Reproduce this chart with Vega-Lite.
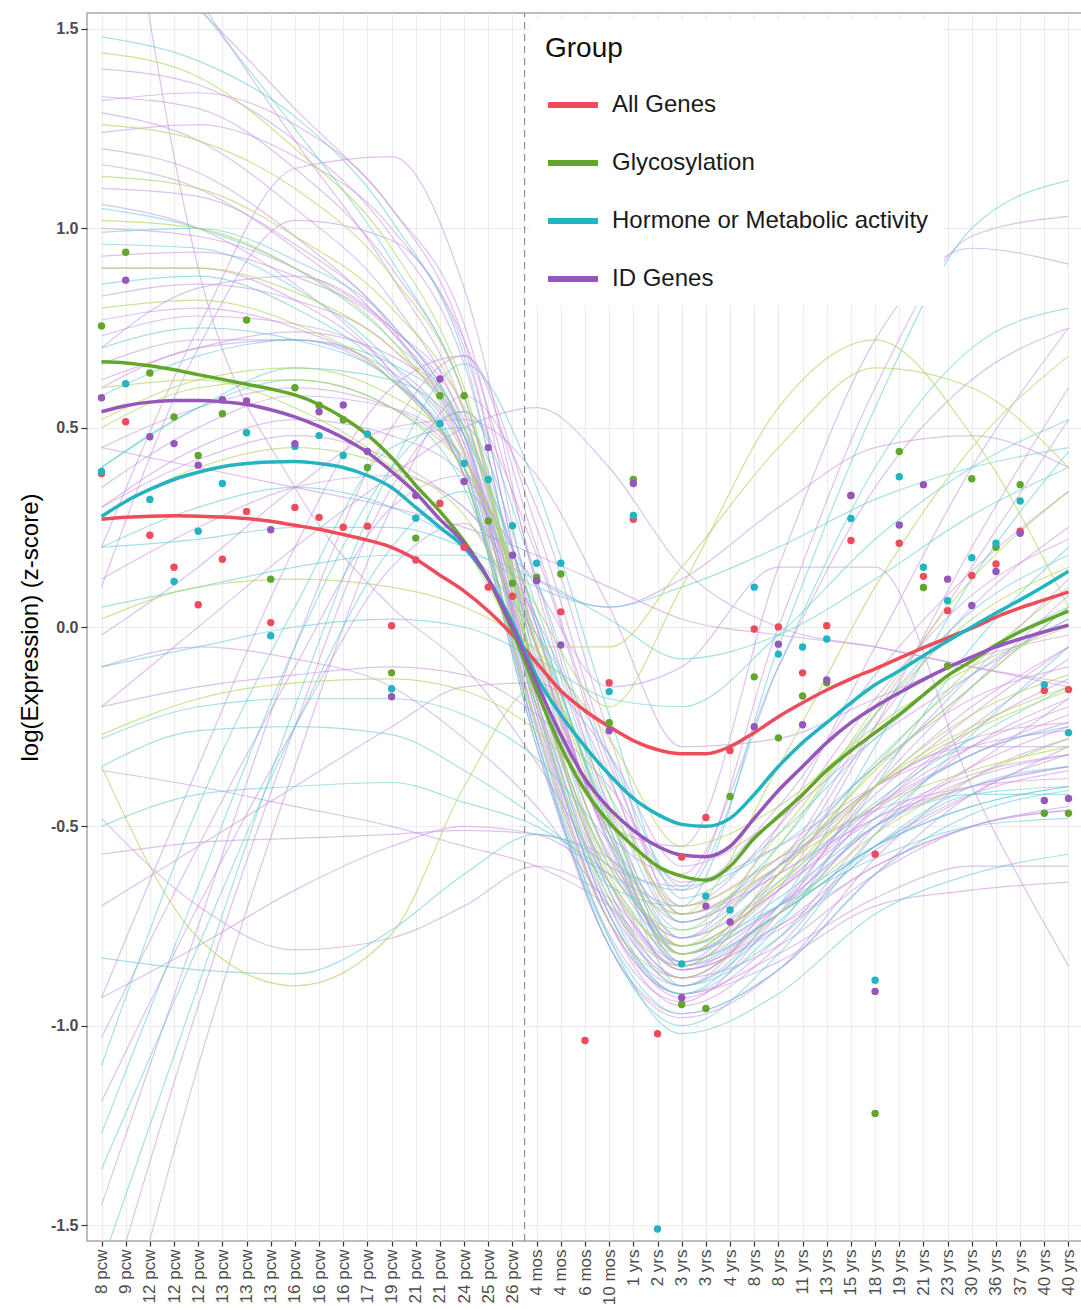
{
"$schema":"https://vega.github.io/schema/vega-lite/v6.json",
"width":996,"height":1228,
"autosize":{"type":"none"},
"padding":{"left":87,"top":13,"right":0,"bottom":68},
"background":"white",
"config":{"font":"Liberation Sans","view":{"stroke":"#a8a8a8","strokeWidth":1.5}},
"datasets":{
"thin":[
{"l":"H1","g":"P","x":1,"y":1.40},{"l":"H1","g":"P","x":5,"y":1.36},{"l":"H1","g":"P","x":9,"y":1.22},{"l":"H1","g":"P","x":13,"y":0.98},{"l":"H1","g":"P","x":16,"y":0.66},{"l":"H1","g":"P","x":19,"y":-0.10},{"l":"H1","g":"P","x":22,"y":-0.64},{"l":"H1","g":"P","x":25,"y":-0.85},{"l":"H1","g":"P","x":29,"y":-0.62},{"l":"H1","g":"P","x":33,"y":-0.25},{"l":"H1","g":"P","x":37,"y":0.05},{"l":"H1","g":"P","x":41,"y":0.25},
{"l":"H2","g":"P","x":1,"y":1.33},{"l":"H2","g":"P","x":5,"y":1.30},{"l":"H2","g":"P","x":9,"y":1.15},{"l":"H2","g":"P","x":13,"y":0.90},{"l":"H2","g":"P","x":16,"y":0.58},{"l":"H2","g":"P","x":19,"y":-0.18},{"l":"H2","g":"P","x":22,"y":-0.72},{"l":"H2","g":"P","x":25,"y":-0.90},{"l":"H2","g":"P","x":29,"y":-0.72},{"l":"H2","g":"P","x":33,"y":-0.45},{"l":"H2","g":"P","x":37,"y":-0.25},{"l":"H2","g":"P","x":41,"y":-0.08},
{"l":"H3","g":"P","x":1,"y":1.32},{"l":"H3","g":"P","x":5,"y":1.34},{"l":"H3","g":"P","x":9,"y":1.26},{"l":"H3","g":"P","x":13,"y":1.05},{"l":"H3","g":"P","x":16,"y":0.72},{"l":"H3","g":"P","x":19,"y":-0.06},{"l":"H3","g":"P","x":22,"y":-0.58},{"l":"H3","g":"P","x":25,"y":-0.78},{"l":"H3","g":"P","x":29,"y":-0.50},{"l":"H3","g":"P","x":33,"y":-0.05},{"l":"H3","g":"P","x":37,"y":0.40},{"l":"H3","g":"P","x":41,"y":0.75},
{"l":"H4","g":"C","x":1,"y":1.48},{"l":"H4","g":"C","x":5,"y":1.42},{"l":"H4","g":"C","x":9,"y":1.28},{"l":"H4","g":"C","x":13,"y":1.02},{"l":"H4","g":"C","x":16,"y":0.68},{"l":"H4","g":"C","x":19,"y":-0.14},{"l":"H4","g":"C","x":22,"y":-0.70},{"l":"H4","g":"C","x":25,"y":-0.92},{"l":"H4","g":"C","x":29,"y":-0.75},{"l":"H4","g":"C","x":33,"y":-0.40},{"l":"H4","g":"C","x":37,"y":-0.05},{"l":"H4","g":"C","x":41,"y":0.20},
{"l":"H5","g":"G","x":1,"y":1.44},{"l":"H5","g":"G","x":5,"y":1.38},{"l":"H5","g":"G","x":9,"y":1.20},{"l":"H5","g":"G","x":13,"y":0.95},{"l":"H5","g":"G","x":16,"y":0.60},{"l":"H5","g":"G","x":19,"y":-0.12},{"l":"H5","g":"G","x":22,"y":-0.62},{"l":"H5","g":"G","x":25,"y":-0.82},{"l":"H5","g":"G","x":29,"y":-0.62},{"l":"H5","g":"G","x":33,"y":-0.36},{"l":"H5","g":"G","x":37,"y":-0.15},{"l":"H5","g":"G","x":41,"y":0.05},
{"l":"H6","g":"P","x":1,"y":1.29},{"l":"H6","g":"P","x":5,"y":1.22},{"l":"H6","g":"P","x":9,"y":1.05},{"l":"H6","g":"P","x":13,"y":0.82},{"l":"H6","g":"P","x":16,"y":0.50},{"l":"H6","g":"P","x":19,"y":-0.22},{"l":"H6","g":"P","x":22,"y":-0.74},{"l":"H6","g":"P","x":25,"y":-0.95},{"l":"H6","g":"P","x":29,"y":-0.80},{"l":"H6","g":"P","x":33,"y":-0.52},{"l":"H6","g":"P","x":37,"y":-0.35},{"l":"H6","g":"P","x":41,"y":-0.18},
{"l":"H7","g":"G","x":1,"y":1.26},{"l":"H7","g":"G","x":5,"y":1.22},{"l":"H7","g":"G","x":9,"y":1.10},{"l":"H7","g":"G","x":13,"y":0.88},{"l":"H7","g":"G","x":16,"y":0.58},{"l":"H7","g":"G","x":19,"y":-0.14},{"l":"H7","g":"G","x":22,"y":-0.64},{"l":"H7","g":"G","x":25,"y":-0.80},{"l":"H7","g":"G","x":29,"y":-0.55},{"l":"H7","g":"G","x":33,"y":-0.20},{"l":"H7","g":"G","x":37,"y":0.12},{"l":"H7","g":"G","x":41,"y":0.34},
{"l":"H8","g":"P","x":1,"y":1.24},{"l":"H8","g":"P","x":5,"y":1.26},{"l":"H8","g":"P","x":9,"y":1.18},{"l":"H8","g":"P","x":13,"y":1.00},{"l":"H8","g":"P","x":16,"y":0.70},{"l":"H8","g":"P","x":19,"y":-0.04},{"l":"H8","g":"P","x":22,"y":-0.52},{"l":"H8","g":"P","x":25,"y":-0.72},{"l":"H8","g":"P","x":29,"y":-0.62},{"l":"H8","g":"P","x":33,"y":-0.45},{"l":"H8","g":"P","x":37,"y":-0.32},{"l":"H8","g":"P","x":41,"y":-0.24},
{"l":"H9","g":"P","x":1,"y":1.20},{"l":"H9","g":"P","x":5,"y":1.14},{"l":"H9","g":"P","x":9,"y":0.98},{"l":"H9","g":"P","x":13,"y":0.75},{"l":"H9","g":"P","x":16,"y":0.44},{"l":"H9","g":"P","x":19,"y":-0.28},{"l":"H9","g":"P","x":22,"y":-0.80},{"l":"H9","g":"P","x":25,"y":-0.98},{"l":"H9","g":"P","x":29,"y":-0.86},{"l":"H9","g":"P","x":33,"y":-0.58},{"l":"H9","g":"P","x":37,"y":-0.38},{"l":"H9","g":"P","x":41,"y":-0.28},
{"l":"H10","g":"P","x":1,"y":1.16},{"l":"H10","g":"P","x":5,"y":1.10},{"l":"H10","g":"P","x":9,"y":0.95},{"l":"H10","g":"P","x":13,"y":0.74},{"l":"H10","g":"P","x":16,"y":0.46},{"l":"H10","g":"P","x":19,"y":-0.22},{"l":"H10","g":"P","x":22,"y":-0.70},{"l":"H10","g":"P","x":25,"y":-0.88},{"l":"H10","g":"P","x":29,"y":-0.70},{"l":"H10","g":"P","x":33,"y":-0.40},{"l":"H10","g":"P","x":37,"y":-0.15},{"l":"H10","g":"P","x":41,"y":0.08},
{"l":"H11","g":"G","x":1,"y":1.13},{"l":"H11","g":"G","x":5,"y":1.10},{"l":"H11","g":"G","x":9,"y":0.98},{"l":"H11","g":"G","x":13,"y":0.80},{"l":"H11","g":"G","x":16,"y":0.54},{"l":"H11","g":"G","x":19,"y":-0.14},{"l":"H11","g":"G","x":22,"y":-0.60},{"l":"H11","g":"G","x":25,"y":-0.76},{"l":"H11","g":"G","x":29,"y":-0.52},{"l":"H11","g":"G","x":33,"y":-0.22},{"l":"H11","g":"G","x":37,"y":0.02},{"l":"H11","g":"G","x":41,"y":0.15},
{"l":"H12","g":"P","x":1,"y":1.10},{"l":"H12","g":"P","x":5,"y":1.08},{"l":"H12","g":"P","x":9,"y":0.96},{"l":"H12","g":"P","x":13,"y":0.76},{"l":"H12","g":"P","x":16,"y":0.48},{"l":"H12","g":"P","x":19,"y":-0.25},{"l":"H12","g":"P","x":22,"y":-0.74},{"l":"H12","g":"P","x":25,"y":-0.92},{"l":"H12","g":"P","x":29,"y":-0.82},{"l":"H12","g":"P","x":33,"y":-0.68},{"l":"H12","g":"P","x":37,"y":-0.60},{"l":"H12","g":"P","x":41,"y":-0.60},
{"l":"H13","g":"P","x":1,"y":1.06},{"l":"H13","g":"P","x":5,"y":1.00},{"l":"H13","g":"P","x":9,"y":0.86},{"l":"H13","g":"P","x":13,"y":0.64},{"l":"H13","g":"P","x":16,"y":0.38},{"l":"H13","g":"P","x":19,"y":-0.30},{"l":"H13","g":"P","x":22,"y":-0.80},{"l":"H13","g":"P","x":25,"y":-0.97},{"l":"H13","g":"P","x":29,"y":-0.86},{"l":"H13","g":"P","x":33,"y":-0.62},{"l":"H13","g":"P","x":37,"y":-0.42},{"l":"H13","g":"P","x":41,"y":-0.32},
{"l":"H14","g":"G","x":1,"y":1.02},{"l":"H14","g":"G","x":5,"y":1.00},{"l":"H14","g":"G","x":9,"y":0.90},{"l":"H14","g":"G","x":13,"y":0.72},{"l":"H14","g":"G","x":16,"y":0.44},{"l":"H14","g":"G","x":19,"y":-0.20},{"l":"H14","g":"G","x":22,"y":-0.68},{"l":"H14","g":"G","x":25,"y":-0.85},{"l":"H14","g":"G","x":29,"y":-0.64},{"l":"H14","g":"G","x":33,"y":-0.40},{"l":"H14","g":"G","x":37,"y":-0.22},{"l":"H14","g":"G","x":41,"y":-0.12},
{"l":"H15","g":"C","x":1,"y":0.99},{"l":"H15","g":"C","x":5,"y":1.00},{"l":"H15","g":"C","x":9,"y":0.92},{"l":"H15","g":"C","x":13,"y":0.76},{"l":"H15","g":"C","x":16,"y":0.48},{"l":"H15","g":"C","x":19,"y":-0.20},{"l":"H15","g":"C","x":22,"y":-0.72},{"l":"H15","g":"C","x":25,"y":-0.92},{"l":"H15","g":"C","x":29,"y":-0.70},{"l":"H15","g":"C","x":33,"y":-0.30},{"l":"H15","g":"C","x":37,"y":0.12},{"l":"H15","g":"C","x":41,"y":0.44},
{"l":"H16","g":"C","x":1,"y":0.96},{"l":"H16","g":"C","x":5,"y":0.95},{"l":"H16","g":"C","x":9,"y":0.85},{"l":"H16","g":"C","x":13,"y":0.66},{"l":"H16","g":"C","x":16,"y":0.40},{"l":"H16","g":"C","x":19,"y":-0.28},{"l":"H16","g":"C","x":22,"y":-0.80},{"l":"H16","g":"C","x":25,"y":-1.00},{"l":"H16","g":"C","x":29,"y":-0.82},{"l":"H16","g":"C","x":33,"y":-0.52},{"l":"H16","g":"C","x":37,"y":-0.27},{"l":"H16","g":"C","x":41,"y":-0.05},
{"l":"H17","g":"P","x":1,"y":0.93},{"l":"H17","g":"P","x":5,"y":0.94},{"l":"H17","g":"P","x":9,"y":0.88},{"l":"H17","g":"P","x":13,"y":0.74},{"l":"H17","g":"P","x":16,"y":0.48},{"l":"H17","g":"P","x":19,"y":-0.15},{"l":"H17","g":"P","x":22,"y":-0.60},{"l":"H17","g":"P","x":25,"y":-0.80},{"l":"H17","g":"P","x":29,"y":-0.66},{"l":"H17","g":"P","x":33,"y":-0.48},{"l":"H17","g":"P","x":37,"y":-0.37},{"l":"H17","g":"P","x":41,"y":-0.32},
{"l":"H18","g":"P","x":1,"y":0.90},{"l":"H18","g":"P","x":5,"y":0.90},{"l":"H18","g":"P","x":9,"y":0.82},{"l":"H18","g":"P","x":13,"y":0.64},{"l":"H18","g":"P","x":16,"y":0.38},{"l":"H18","g":"P","x":19,"y":-0.28},{"l":"H18","g":"P","x":22,"y":-0.77},{"l":"H18","g":"P","x":25,"y":-0.94},{"l":"H18","g":"P","x":29,"y":-0.72},{"l":"H18","g":"P","x":33,"y":-0.38},{"l":"H18","g":"P","x":37,"y":-0.12},{"l":"H18","g":"P","x":41,"y":0.12},
{"l":"H19","g":"C","x":1,"y":0.86},{"l":"H19","g":"C","x":5,"y":0.88},{"l":"H19","g":"C","x":9,"y":0.80},{"l":"H19","g":"C","x":13,"y":0.63},{"l":"H19","g":"C","x":16,"y":0.38},{"l":"H19","g":"C","x":19,"y":-0.30},{"l":"H19","g":"C","x":22,"y":-0.78},{"l":"H19","g":"C","x":25,"y":-0.97},{"l":"H19","g":"C","x":29,"y":-0.86},{"l":"H19","g":"C","x":33,"y":-0.62},{"l":"H19","g":"C","x":37,"y":-0.47},{"l":"H19","g":"C","x":41,"y":-0.41},
{"l":"H20","g":"P","x":1,"y":0.83},{"l":"H20","g":"P","x":5,"y":0.86},{"l":"H20","g":"P","x":9,"y":0.82},{"l":"H20","g":"P","x":13,"y":0.70},{"l":"H20","g":"P","x":16,"y":0.46},{"l":"H20","g":"P","x":19,"y":-0.18},{"l":"H20","g":"P","x":22,"y":-0.68},{"l":"H20","g":"P","x":25,"y":-0.90},{"l":"H20","g":"P","x":29,"y":-0.66},{"l":"H20","g":"P","x":33,"y":-0.25},{"l":"H20","g":"P","x":37,"y":0.20},{"l":"H20","g":"P","x":41,"y":0.60},
{"l":"H21","g":"G","x":1,"y":0.80},{"l":"H21","g":"G","x":5,"y":0.82},{"l":"H21","g":"G","x":9,"y":0.76},{"l":"H21","g":"G","x":13,"y":0.62},{"l":"H21","g":"G","x":16,"y":0.38},{"l":"H21","g":"G","x":19,"y":-0.25},{"l":"H21","g":"G","x":22,"y":-0.74},{"l":"H21","g":"G","x":25,"y":-0.88},{"l":"H21","g":"G","x":29,"y":-0.72},{"l":"H21","g":"G","x":33,"y":-0.52},{"l":"H21","g":"G","x":37,"y":-0.38},{"l":"H21","g":"G","x":41,"y":-0.28},
{"l":"H22","g":"P","x":1,"y":0.77},{"l":"H22","g":"P","x":5,"y":0.80},{"l":"H22","g":"P","x":9,"y":0.75},{"l":"H22","g":"P","x":13,"y":0.62},{"l":"H22","g":"P","x":16,"y":0.38},{"l":"H22","g":"P","x":19,"y":-0.24},{"l":"H22","g":"P","x":22,"y":-0.74},{"l":"H22","g":"P","x":25,"y":-0.92},{"l":"H22","g":"P","x":29,"y":-0.84},{"l":"H22","g":"P","x":33,"y":-0.70},{"l":"H22","g":"P","x":37,"y":-0.66},{"l":"H22","g":"P","x":41,"y":-0.64},
{"l":"H23","g":"P","x":1,"y":0.73},{"l":"H23","g":"P","x":5,"y":0.78},{"l":"H23","g":"P","x":9,"y":0.76},{"l":"H23","g":"P","x":13,"y":0.66},{"l":"H23","g":"P","x":16,"y":0.44},{"l":"H23","g":"P","x":19,"y":-0.15},{"l":"H23","g":"P","x":22,"y":-0.64},{"l":"H23","g":"P","x":25,"y":-0.84},{"l":"H23","g":"P","x":29,"y":-0.60},{"l":"H23","g":"P","x":33,"y":-0.22},{"l":"H23","g":"P","x":37,"y":0.15},{"l":"H23","g":"P","x":41,"y":0.52},
{"l":"H24","g":"C","x":1,"y":0.70},{"l":"H24","g":"C","x":5,"y":0.75},{"l":"H24","g":"C","x":9,"y":0.72},{"l":"H24","g":"C","x":13,"y":0.62},{"l":"H24","g":"C","x":16,"y":0.40},{"l":"H24","g":"C","x":19,"y":-0.26},{"l":"H24","g":"C","x":22,"y":-0.78},{"l":"H24","g":"C","x":25,"y":-1.02},{"l":"H24","g":"C","x":29,"y":-0.92},{"l":"H24","g":"C","x":33,"y":-0.72},{"l":"H24","g":"C","x":37,"y":-0.62},{"l":"H24","g":"C","x":41,"y":-0.57},
{"l":"H25","g":"P","x":1,"y":0.66},{"l":"H25","g":"P","x":5,"y":0.72},{"l":"H25","g":"P","x":9,"y":0.72},{"l":"H25","g":"P","x":13,"y":0.64},{"l":"H25","g":"P","x":16,"y":0.43},{"l":"H25","g":"P","x":19,"y":-0.18},{"l":"H25","g":"P","x":22,"y":-0.66},{"l":"H25","g":"P","x":25,"y":-0.88},{"l":"H25","g":"P","x":29,"y":-0.70},{"l":"H25","g":"P","x":33,"y":-0.46},{"l":"H25","g":"P","x":37,"y":-0.26},{"l":"H25","g":"P","x":41,"y":-0.13},
{"l":"H26","g":"P","x":1,"y":0.62},{"l":"H26","g":"P","x":5,"y":0.70},{"l":"H26","g":"P","x":9,"y":0.74},{"l":"H26","g":"P","x":13,"y":0.68},{"l":"H26","g":"P","x":16,"y":0.48},{"l":"H26","g":"P","x":19,"y":-0.12},{"l":"H26","g":"P","x":22,"y":-0.57},{"l":"H26","g":"P","x":25,"y":-0.78},{"l":"H26","g":"P","x":29,"y":-0.60},{"l":"H26","g":"P","x":33,"y":-0.40},{"l":"H26","g":"P","x":37,"y":-0.28},{"l":"H26","g":"P","x":41,"y":-0.24},
{"l":"T1","g":"P","x":1,"y":2.30},{"l":"T1","g":"P","x":5,"y":0.90},{"l":"T1","g":"P","x":9,"y":0.35},{"l":"T1","g":"P","x":13,"y":0.05},{"l":"T1","g":"P","x":16,"y":-0.10},{"l":"T1","g":"P","x":19,"y":-0.34},{"l":"T1","g":"P","x":22,"y":-0.64},{"l":"T1","g":"P","x":25,"y":-0.86},{"l":"T1","g":"P","x":29,"y":-0.72},{"l":"T1","g":"P","x":33,"y":-0.55},{"l":"T1","g":"P","x":37,"y":-0.42},{"l":"T1","g":"P","x":41,"y":-0.36},
{"l":"T2","g":"P","x":1,"y":2.00},{"l":"T2","g":"P","x":5,"y":1.58},{"l":"T2","g":"P","x":9,"y":1.22},{"l":"T2","g":"P","x":13,"y":0.88},{"l":"T2","g":"P","x":16,"y":0.54},{"l":"T2","g":"P","x":19,"y":-0.20},{"l":"T2","g":"P","x":22,"y":-0.72},{"l":"T2","g":"P","x":25,"y":-0.93},{"l":"T2","g":"P","x":29,"y":-0.78},{"l":"T2","g":"P","x":33,"y":-0.50},{"l":"T2","g":"P","x":37,"y":-0.30},{"l":"T2","g":"P","x":41,"y":-0.18},
{"l":"T3","g":"C","x":1,"y":1.90},{"l":"T3","g":"C","x":5,"y":1.56},{"l":"T3","g":"C","x":9,"y":1.25},{"l":"T3","g":"C","x":13,"y":0.92},{"l":"T3","g":"C","x":16,"y":0.58},{"l":"T3","g":"C","x":19,"y":-0.12},{"l":"T3","g":"C","x":22,"y":-0.66},{"l":"T3","g":"C","x":25,"y":-0.90},{"l":"T3","g":"C","x":29,"y":-0.74},{"l":"T3","g":"C","x":33,"y":-0.48},{"l":"T3","g":"C","x":37,"y":-0.32},{"l":"T3","g":"C","x":41,"y":-0.25},
{"l":"T4","g":"P","x":1,"y":1.75},{"l":"T4","g":"P","x":5,"y":1.55},{"l":"T4","g":"P","x":9,"y":1.30},{"l":"T4","g":"P","x":13,"y":1.05},{"l":"T4","g":"P","x":16,"y":0.76},{"l":"T4","g":"P","x":19,"y":0.00},{"l":"T4","g":"P","x":22,"y":-0.54},{"l":"T4","g":"P","x":25,"y":-0.82},{"l":"T4","g":"P","x":29,"y":-0.66},{"l":"T4","g":"P","x":33,"y":-0.42},{"l":"T4","g":"P","x":37,"y":-0.22},{"l":"T4","g":"P","x":41,"y":-0.05},
{"l":"R1","g":"P","x":1,"y":-1.03},{"l":"R1","g":"P","x":5,"y":-0.55},{"l":"R1","g":"P","x":9,"y":-0.10},{"l":"R1","g":"P","x":13,"y":0.30},{"l":"R1","g":"P","x":16,"y":0.38},{"l":"R1","g":"P","x":19,"y":-0.05},{"l":"R1","g":"P","x":22,"y":-0.54},{"l":"R1","g":"P","x":25,"y":-0.80},{"l":"R1","g":"P","x":29,"y":-0.66},{"l":"R1","g":"P","x":33,"y":-0.46},{"l":"R1","g":"P","x":37,"y":-0.32},{"l":"R1","g":"P","x":41,"y":-0.22},
{"l":"R2","g":"C","x":1,"y":-1.10},{"l":"R2","g":"C","x":5,"y":-0.45},{"l":"R2","g":"C","x":9,"y":0.05},{"l":"R2","g":"C","x":13,"y":0.45},{"l":"R2","g":"C","x":16,"y":0.50},{"l":"R2","g":"C","x":19,"y":0.05},{"l":"R2","g":"C","x":22,"y":-0.47},{"l":"R2","g":"C","x":25,"y":-0.76},{"l":"R2","g":"C","x":29,"y":-0.60},{"l":"R2","g":"C","x":33,"y":-0.34},{"l":"R2","g":"C","x":37,"y":-0.12},{"l":"R2","g":"C","x":41,"y":0.02},
{"l":"R3","g":"P","x":1,"y":-1.19},{"l":"R3","g":"P","x":5,"y":-0.70},{"l":"R3","g":"P","x":9,"y":-0.25},{"l":"R3","g":"P","x":13,"y":0.15},{"l":"R3","g":"P","x":16,"y":0.26},{"l":"R3","g":"P","x":19,"y":-0.10},{"l":"R3","g":"P","x":22,"y":-0.52},{"l":"R3","g":"P","x":25,"y":-0.84},{"l":"R3","g":"P","x":29,"y":-0.72},{"l":"R3","g":"P","x":33,"y":-0.50},{"l":"R3","g":"P","x":37,"y":-0.40},{"l":"R3","g":"P","x":41,"y":-0.35},
{"l":"R4","g":"C","x":1,"y":-1.27},{"l":"R4","g":"C","x":5,"y":-0.65},{"l":"R4","g":"C","x":9,"y":-0.05},{"l":"R4","g":"C","x":13,"y":0.40},{"l":"R4","g":"C","x":16,"y":0.54},{"l":"R4","g":"C","x":19,"y":0.12},{"l":"R4","g":"C","x":22,"y":-0.42},{"l":"R4","g":"C","x":25,"y":-0.74},{"l":"R4","g":"C","x":29,"y":-0.55},{"l":"R4","g":"C","x":33,"y":-0.22},{"l":"R4","g":"C","x":37,"y":0.04},{"l":"R4","g":"C","x":41,"y":0.18},
{"l":"R5","g":"C","x":1,"y":-1.36},{"l":"R5","g":"C","x":5,"y":-0.80},{"l":"R5","g":"C","x":9,"y":-0.25},{"l":"R5","g":"C","x":13,"y":0.20},{"l":"R5","g":"C","x":16,"y":0.34},{"l":"R5","g":"C","x":19,"y":-0.02},{"l":"R5","g":"C","x":22,"y":-0.48},{"l":"R5","g":"C","x":25,"y":-0.82},{"l":"R5","g":"C","x":29,"y":-0.68},{"l":"R5","g":"C","x":33,"y":-0.50},{"l":"R5","g":"C","x":37,"y":-0.42},{"l":"R5","g":"C","x":41,"y":-0.42},
{"l":"R6","g":"P","x":1,"y":-1.45},{"l":"R6","g":"P","x":5,"y":-0.75},{"l":"R6","g":"P","x":9,"y":-0.05},{"l":"R6","g":"P","x":13,"y":0.50},{"l":"R6","g":"P","x":16,"y":0.68},{"l":"R6","g":"P","x":19,"y":0.25},{"l":"R6","g":"P","x":22,"y":-0.32},{"l":"R6","g":"P","x":25,"y":-0.70},{"l":"R6","g":"P","x":29,"y":-0.50},{"l":"R6","g":"P","x":33,"y":-0.18},{"l":"R6","g":"P","x":37,"y":0.08},{"l":"R6","g":"P","x":41,"y":0.22},
{"l":"R7","g":"P","x":1,"y":-1.75},{"l":"R7","g":"P","x":5,"y":-0.95},{"l":"R7","g":"P","x":9,"y":-0.25},{"l":"R7","g":"P","x":13,"y":0.35},{"l":"R7","g":"P","x":16,"y":0.54},{"l":"R7","g":"P","x":19,"y":0.18},{"l":"R7","g":"P","x":22,"y":-0.37},{"l":"R7","g":"P","x":25,"y":-0.74},{"l":"R7","g":"P","x":29,"y":-0.60},{"l":"R7","g":"P","x":33,"y":-0.40},{"l":"R7","g":"P","x":37,"y":-0.30},{"l":"R7","g":"P","x":41,"y":-0.30},
{"l":"R8","g":"P","x":1,"y":-0.93},{"l":"R8","g":"P","x":5,"y":-0.35},{"l":"R8","g":"P","x":9,"y":0.20},{"l":"R8","g":"P","x":13,"y":0.60},{"l":"R8","g":"P","x":16,"y":0.68},{"l":"R8","g":"P","x":19,"y":0.20},{"l":"R8","g":"P","x":22,"y":-0.34},{"l":"R8","g":"P","x":25,"y":-0.66},{"l":"R8","g":"P","x":29,"y":-0.45},{"l":"R8","g":"P","x":33,"y":-0.12},{"l":"R8","g":"P","x":37,"y":0.14},{"l":"R8","g":"P","x":41,"y":0.34},
{"l":"R9","g":"P","x":1,"y":0.20},{"l":"R9","g":"P","x":5,"y":0.75},{"l":"R9","g":"P","x":9,"y":1.15},{"l":"R9","g":"P","x":13,"y":1.18},{"l":"R9","g":"P","x":16,"y":0.85},{"l":"R9","g":"P","x":19,"y":0.10},{"l":"R9","g":"P","x":22,"y":-0.45},{"l":"R9","g":"P","x":25,"y":-0.78},{"l":"R9","g":"P","x":29,"y":-0.65},{"l":"R9","g":"P","x":33,"y":-0.45},{"l":"R9","g":"P","x":37,"y":-0.30},{"l":"R9","g":"P","x":41,"y":-0.20},
{"l":"R10","g":"P","x":1,"y":0.10},{"l":"R10","g":"P","x":5,"y":0.70},{"l":"R10","g":"P","x":9,"y":1.02},{"l":"R10","g":"P","x":13,"y":0.97},{"l":"R10","g":"P","x":16,"y":0.72},{"l":"R10","g":"P","x":19,"y":0.12},{"l":"R10","g":"P","x":22,"y":-0.46},{"l":"R10","g":"P","x":25,"y":-0.82},{"l":"R10","g":"P","x":29,"y":-0.70},{"l":"R10","g":"P","x":33,"y":-0.50},{"l":"R10","g":"P","x":37,"y":-0.35},{"l":"R10","g":"P","x":41,"y":-0.25},
{"l":"R11","g":"C","x":1,"y":-1.60},{"l":"R11","g":"C","x":5,"y":-0.90},{"l":"R11","g":"C","x":9,"y":-0.20},{"l":"R11","g":"C","x":13,"y":0.40},{"l":"R11","g":"C","x":16,"y":0.66},{"l":"R11","g":"C","x":19,"y":0.35},{"l":"R11","g":"C","x":22,"y":-0.22},{"l":"R11","g":"C","x":25,"y":-0.68},{"l":"R11","g":"C","x":29,"y":-0.52},{"l":"R11","g":"C","x":33,"y":-0.28},{"l":"R11","g":"C","x":37,"y":-0.08},{"l":"R11","g":"C","x":41,"y":0.05},
{"l":"R12","g":"P","x":1,"y":-2.00},{"l":"R12","g":"P","x":5,"y":-1.10},{"l":"R12","g":"P","x":9,"y":-0.35},{"l":"R12","g":"P","x":13,"y":0.30},{"l":"R12","g":"P","x":16,"y":0.58},{"l":"R12","g":"P","x":19,"y":0.30},{"l":"R12","g":"P","x":22,"y":-0.27},{"l":"R12","g":"P","x":25,"y":-0.72},{"l":"R12","g":"P","x":29,"y":-0.58},{"l":"R12","g":"P","x":33,"y":-0.35},{"l":"R12","g":"P","x":37,"y":-0.18},{"l":"R12","g":"P","x":41,"y":-0.10},
{"l":"L1","g":"G","x":1,"y":-0.35},{"l":"L1","g":"G","x":5,"y":-0.78},{"l":"L1","g":"G","x":9,"y":-0.90},{"l":"L1","g":"G","x":13,"y":-0.77},{"l":"L1","g":"G","x":16,"y":-0.40},{"l":"L1","g":"G","x":19,"y":-0.15},{"l":"L1","g":"G","x":22,"y":-0.42},{"l":"L1","g":"G","x":25,"y":-0.72},{"l":"L1","g":"G","x":29,"y":-0.60},{"l":"L1","g":"G","x":33,"y":-0.45},{"l":"L1","g":"G","x":37,"y":-0.36},{"l":"L1","g":"G","x":41,"y":-0.30},
{"l":"L2","g":"C","x":1,"y":-0.83},{"l":"L2","g":"C","x":5,"y":-0.86},{"l":"L2","g":"C","x":9,"y":-0.87},{"l":"L2","g":"C","x":13,"y":-0.76},{"l":"L2","g":"C","x":16,"y":-0.62},{"l":"L2","g":"C","x":19,"y":-0.52},{"l":"L2","g":"C","x":22,"y":-0.60},{"l":"L2","g":"C","x":25,"y":-0.82},{"l":"L2","g":"C","x":29,"y":-0.70},{"l":"L2","g":"C","x":33,"y":-0.55},{"l":"L2","g":"C","x":37,"y":-0.45},{"l":"L2","g":"C","x":41,"y":-0.40},
{"l":"L3","g":"P","x":1,"y":-0.48},{"l":"L3","g":"P","x":5,"y":-0.70},{"l":"L3","g":"P","x":9,"y":-0.81},{"l":"L3","g":"P","x":13,"y":-0.78},{"l":"L3","g":"P","x":16,"y":-0.70},{"l":"L3","g":"P","x":19,"y":-0.60},{"l":"L3","g":"P","x":22,"y":-0.68},{"l":"L3","g":"P","x":25,"y":-0.86},{"l":"L3","g":"P","x":29,"y":-0.76},{"l":"L3","g":"P","x":33,"y":-0.60},{"l":"L3","g":"P","x":37,"y":-0.50},{"l":"L3","g":"P","x":41,"y":-0.46},
{"l":"L4","g":"C","x":1,"y":-0.50},{"l":"L4","g":"C","x":5,"y":-0.42},{"l":"L4","g":"C","x":9,"y":-0.40},{"l":"L4","g":"C","x":13,"y":-0.39},{"l":"L4","g":"C","x":16,"y":-0.44},{"l":"L4","g":"C","x":19,"y":-0.50},{"l":"L4","g":"C","x":22,"y":-0.62},{"l":"L4","g":"C","x":25,"y":-0.80},{"l":"L4","g":"C","x":29,"y":-0.70},{"l":"L4","g":"C","x":33,"y":-0.58},{"l":"L4","g":"C","x":37,"y":-0.50},{"l":"L4","g":"C","x":41,"y":-0.48},
{"l":"L5","g":"C","x":1,"y":-0.35},{"l":"L5","g":"C","x":5,"y":-0.26},{"l":"L5","g":"C","x":9,"y":-0.25},{"l":"L5","g":"C","x":13,"y":-0.27},{"l":"L5","g":"C","x":16,"y":-0.36},{"l":"L5","g":"C","x":19,"y":-0.48},{"l":"L5","g":"C","x":22,"y":-0.64},{"l":"L5","g":"C","x":25,"y":-0.84},{"l":"L5","g":"C","x":29,"y":-0.72},{"l":"L5","g":"C","x":33,"y":-0.55},{"l":"L5","g":"C","x":37,"y":-0.45},{"l":"L5","g":"C","x":41,"y":-0.40},
{"l":"L6","g":"P","x":1,"y":-0.57},{"l":"L6","g":"P","x":5,"y":-0.54},{"l":"L6","g":"P","x":9,"y":-0.53},{"l":"L6","g":"P","x":13,"y":-0.52},{"l":"L6","g":"P","x":16,"y":-0.51},{"l":"L6","g":"P","x":19,"y":-0.52},{"l":"L6","g":"P","x":22,"y":-0.58},{"l":"L6","g":"P","x":25,"y":-0.74},{"l":"L6","g":"P","x":29,"y":-0.62},{"l":"L6","g":"P","x":33,"y":-0.48},{"l":"L6","g":"P","x":37,"y":-0.40},{"l":"L6","g":"P","x":41,"y":-0.35},
{"l":"L7","g":"G","x":1,"y":-0.27},{"l":"L7","g":"G","x":5,"y":-0.18},{"l":"L7","g":"G","x":9,"y":-0.14},{"l":"L7","g":"G","x":13,"y":-0.13},{"l":"L7","g":"G","x":16,"y":-0.16},{"l":"L7","g":"G","x":19,"y":-0.26},{"l":"L7","g":"G","x":22,"y":-0.46},{"l":"L7","g":"G","x":25,"y":-0.70},{"l":"L7","g":"G","x":29,"y":-0.58},{"l":"L7","g":"G","x":33,"y":-0.40},{"l":"L7","g":"G","x":37,"y":-0.26},{"l":"L7","g":"G","x":41,"y":-0.16},
{"l":"L8","g":"C","x":1,"y":-0.28},{"l":"L8","g":"C","x":5,"y":-0.20},{"l":"L8","g":"C","x":9,"y":-0.18},{"l":"L8","g":"C","x":13,"y":-0.18},{"l":"L8","g":"C","x":16,"y":-0.22},{"l":"L8","g":"C","x":19,"y":-0.33},{"l":"L8","g":"C","x":22,"y":-0.54},{"l":"L8","g":"C","x":25,"y":-0.78},{"l":"L8","g":"C","x":29,"y":-0.64},{"l":"L8","g":"C","x":33,"y":-0.44},{"l":"L8","g":"C","x":37,"y":-0.28},{"l":"L8","g":"C","x":41,"y":-0.15},
{"l":"L9","g":"P","x":1,"y":-0.20},{"l":"L9","g":"P","x":5,"y":-0.15},{"l":"L9","g":"P","x":9,"y":-0.12},{"l":"L9","g":"P","x":13,"y":-0.10},{"l":"L9","g":"P","x":16,"y":-0.12},{"l":"L9","g":"P","x":19,"y":-0.22},{"l":"L9","g":"P","x":22,"y":-0.40},{"l":"L9","g":"P","x":25,"y":-0.64},{"l":"L9","g":"P","x":29,"y":-0.55},{"l":"L9","g":"P","x":33,"y":-0.40},{"l":"L9","g":"P","x":37,"y":-0.30},{"l":"L9","g":"P","x":41,"y":-0.26},
{"l":"L10","g":"P","x":1,"y":-0.10},{"l":"L10","g":"P","x":5,"y":-0.05},{"l":"L10","g":"P","x":9,"y":-0.08},{"l":"L10","g":"P","x":13,"y":-0.15},{"l":"L10","g":"P","x":16,"y":-0.28},{"l":"L10","g":"P","x":19,"y":-0.45},{"l":"L10","g":"P","x":22,"y":-0.70},{"l":"L10","g":"P","x":25,"y":-0.88},{"l":"L10","g":"P","x":29,"y":-0.80},{"l":"L10","g":"P","x":33,"y":-0.62},{"l":"L10","g":"P","x":37,"y":-0.50},{"l":"L10","g":"P","x":41,"y":-0.46},
{"l":"L11","g":"P","x":1,"y":-0.36},{"l":"L11","g":"P","x":5,"y":-0.40},{"l":"L11","g":"P","x":9,"y":-0.45},{"l":"L11","g":"P","x":13,"y":-0.50},{"l":"L11","g":"P","x":16,"y":-0.55},{"l":"L11","g":"P","x":19,"y":-0.60},{"l":"L11","g":"P","x":22,"y":-0.70},{"l":"L11","g":"P","x":25,"y":-0.86},{"l":"L11","g":"P","x":29,"y":-0.75},{"l":"L11","g":"P","x":33,"y":-0.56},{"l":"L11","g":"P","x":37,"y":-0.42},{"l":"L11","g":"P","x":41,"y":-0.30},
{"l":"L12","g":"P","x":1,"y":-0.70},{"l":"L12","g":"P","x":5,"y":-0.55},{"l":"L12","g":"P","x":9,"y":-0.40},{"l":"L12","g":"P","x":13,"y":-0.25},{"l":"L12","g":"P","x":16,"y":-0.15},{"l":"L12","g":"P","x":19,"y":-0.14},{"l":"L12","g":"P","x":22,"y":-0.32},{"l":"L12","g":"P","x":25,"y":-0.60},{"l":"L12","g":"P","x":29,"y":-0.48},{"l":"L12","g":"P","x":33,"y":-0.28},{"l":"L12","g":"P","x":37,"y":-0.12},{"l":"L12","g":"P","x":41,"y":0.02},
{"l":"L13","g":"P","x":1,"y":-0.93},{"l":"L13","g":"P","x":5,"y":-0.80},{"l":"L13","g":"P","x":9,"y":-0.66},{"l":"L13","g":"P","x":13,"y":-0.55},{"l":"L13","g":"P","x":16,"y":-0.50},{"l":"L13","g":"P","x":19,"y":-0.52},{"l":"L13","g":"P","x":22,"y":-0.62},{"l":"L13","g":"P","x":25,"y":-0.70},{"l":"L13","g":"P","x":29,"y":-0.58},{"l":"L13","g":"P","x":33,"y":-0.46},{"l":"L13","g":"P","x":37,"y":-0.40},{"l":"L13","g":"P","x":41,"y":-0.38},
{"l":"M1","g":"G","x":1,"y":0.02},{"l":"M1","g":"G","x":5,"y":0.10},{"l":"M1","g":"G","x":9,"y":0.12},{"l":"M1","g":"G","x":13,"y":0.10},{"l":"M1","g":"G","x":16,"y":0.05},{"l":"M1","g":"G","x":19,"y":-0.06},{"l":"M1","g":"G","x":22,"y":-0.28},{"l":"M1","g":"G","x":25,"y":-0.55},{"l":"M1","g":"G","x":29,"y":-0.45},{"l":"M1","g":"G","x":33,"y":-0.25},{"l":"M1","g":"G","x":37,"y":-0.10},{"l":"M1","g":"G","x":41,"y":0.00},
{"l":"M2","g":"C","x":1,"y":0.20},{"l":"M2","g":"C","x":5,"y":0.30},{"l":"M2","g":"C","x":9,"y":0.35},{"l":"M2","g":"C","x":13,"y":0.30},{"l":"M2","g":"C","x":16,"y":0.20},{"l":"M2","g":"C","x":19,"y":-0.02},{"l":"M2","g":"C","x":22,"y":-0.32},{"l":"M2","g":"C","x":25,"y":-0.65},{"l":"M2","g":"C","x":29,"y":-0.55},{"l":"M2","g":"C","x":33,"y":-0.35},{"l":"M2","g":"C","x":37,"y":-0.15},{"l":"M2","g":"C","x":41,"y":0.05},
{"l":"M3","g":"P","x":1,"y":0.12},{"l":"M3","g":"P","x":5,"y":0.25},{"l":"M3","g":"P","x":9,"y":0.35},{"l":"M3","g":"P","x":13,"y":0.38},{"l":"M3","g":"P","x":16,"y":0.30},{"l":"M3","g":"P","x":19,"y":0.02},{"l":"M3","g":"P","x":22,"y":-0.38},{"l":"M3","g":"P","x":25,"y":-0.72},{"l":"M3","g":"P","x":29,"y":-0.60},{"l":"M3","g":"P","x":33,"y":-0.40},{"l":"M3","g":"P","x":37,"y":-0.20},{"l":"M3","g":"P","x":41,"y":-0.05},
{"l":"M4","g":"G","x":1,"y":0.28},{"l":"M4","g":"G","x":5,"y":0.40},{"l":"M4","g":"G","x":9,"y":0.45},{"l":"M4","g":"G","x":13,"y":0.40},{"l":"M4","g":"G","x":16,"y":0.28},{"l":"M4","g":"G","x":19,"y":-0.05},{"l":"M4","g":"G","x":22,"y":-0.48},{"l":"M4","g":"G","x":25,"y":-0.80},{"l":"M4","g":"G","x":29,"y":-0.65},{"l":"M4","g":"G","x":33,"y":-0.40},{"l":"M4","g":"G","x":37,"y":-0.25},{"l":"M4","g":"G","x":41,"y":-0.15},
{"l":"M5","g":"P","x":1,"y":0.35},{"l":"M5","g":"P","x":5,"y":0.50},{"l":"M5","g":"P","x":9,"y":0.58},{"l":"M5","g":"P","x":13,"y":0.55},{"l":"M5","g":"P","x":16,"y":0.42},{"l":"M5","g":"P","x":19,"y":0.00},{"l":"M5","g":"P","x":22,"y":-0.50},{"l":"M5","g":"P","x":25,"y":-0.84},{"l":"M5","g":"P","x":29,"y":-0.70},{"l":"M5","g":"P","x":33,"y":-0.50},{"l":"M5","g":"P","x":37,"y":-0.38},{"l":"M5","g":"P","x":41,"y":-0.32},
{"l":"M6","g":"C","x":1,"y":0.40},{"l":"M6","g":"C","x":5,"y":0.55},{"l":"M6","g":"C","x":9,"y":0.65},{"l":"M6","g":"C","x":13,"y":0.62},{"l":"M6","g":"C","x":16,"y":0.48},{"l":"M6","g":"C","x":19,"y":0.02},{"l":"M6","g":"C","x":22,"y":-0.52},{"l":"M6","g":"C","x":25,"y":-0.90},{"l":"M6","g":"C","x":29,"y":-0.78},{"l":"M6","g":"C","x":33,"y":-0.55},{"l":"M6","g":"C","x":37,"y":-0.40},{"l":"M6","g":"C","x":41,"y":-0.35},
{"l":"M7","g":"P","x":1,"y":0.45},{"l":"M7","g":"P","x":5,"y":0.55},{"l":"M7","g":"P","x":9,"y":0.60},{"l":"M7","g":"P","x":13,"y":0.55},{"l":"M7","g":"P","x":16,"y":0.40},{"l":"M7","g":"P","x":19,"y":-0.05},{"l":"M7","g":"P","x":22,"y":-0.55},{"l":"M7","g":"P","x":25,"y":-0.85},{"l":"M7","g":"P","x":29,"y":-0.75},{"l":"M7","g":"P","x":33,"y":-0.60},{"l":"M7","g":"P","x":37,"y":-0.50},{"l":"M7","g":"P","x":41,"y":-0.45},
{"l":"M8","g":"G","x":1,"y":0.52},{"l":"M8","g":"G","x":5,"y":0.62},{"l":"M8","g":"G","x":9,"y":0.65},{"l":"M8","g":"G","x":13,"y":0.58},{"l":"M8","g":"G","x":16,"y":0.42},{"l":"M8","g":"G","x":19,"y":-0.02},{"l":"M8","g":"G","x":22,"y":-0.52},{"l":"M8","g":"G","x":25,"y":-0.82},{"l":"M8","g":"G","x":29,"y":-0.62},{"l":"M8","g":"G","x":33,"y":-0.35},{"l":"M8","g":"G","x":37,"y":-0.10},{"l":"M8","g":"G","x":41,"y":0.10},
{"l":"M9","g":"C","x":1,"y":0.58},{"l":"M9","g":"C","x":5,"y":0.68},{"l":"M9","g":"C","x":9,"y":0.72},{"l":"M9","g":"C","x":13,"y":0.66},{"l":"M9","g":"C","x":16,"y":0.50},{"l":"M9","g":"C","x":19,"y":0.02},{"l":"M9","g":"C","x":22,"y":-0.50},{"l":"M9","g":"C","x":25,"y":-0.85},{"l":"M9","g":"C","x":29,"y":-0.72},{"l":"M9","g":"C","x":33,"y":-0.55},{"l":"M9","g":"C","x":37,"y":-0.42},{"l":"M9","g":"C","x":41,"y":-0.40},
{"l":"M10","g":"P","x":1,"y":-0.02},{"l":"M10","g":"P","x":5,"y":0.15},{"l":"M10","g":"P","x":9,"y":0.35},{"l":"M10","g":"P","x":13,"y":0.50},{"l":"M10","g":"P","x":16,"y":0.52},{"l":"M10","g":"P","x":19,"y":0.38},{"l":"M10","g":"P","x":22,"y":0.05},{"l":"M10","g":"P","x":25,"y":-0.30},{"l":"M10","g":"P","x":29,"y":-0.28},{"l":"M10","g":"P","x":33,"y":-0.18},{"l":"M10","g":"P","x":37,"y":-0.08},{"l":"M10","g":"P","x":41,"y":-0.02},
{"l":"M11","g":"P","x":1,"y":0.45},{"l":"M11","g":"P","x":5,"y":0.40},{"l":"M11","g":"P","x":9,"y":0.35},{"l":"M11","g":"P","x":13,"y":0.30},{"l":"M11","g":"P","x":16,"y":0.25},{"l":"M11","g":"P","x":19,"y":0.18},{"l":"M11","g":"P","x":22,"y":0.10},{"l":"M11","g":"P","x":25,"y":0.02},{"l":"M11","g":"P","x":29,"y":-0.02},{"l":"M11","g":"P","x":33,"y":-0.05},{"l":"M11","g":"P","x":37,"y":-0.10},{"l":"M11","g":"P","x":41,"y":-0.14},
{"l":"M12","g":"C","x":1,"y":0.05},{"l":"M12","g":"C","x":5,"y":0.10},{"l":"M12","g":"C","x":9,"y":0.15},{"l":"M12","g":"C","x":13,"y":0.18},{"l":"M12","g":"C","x":16,"y":0.18},{"l":"M12","g":"C","x":19,"y":0.12},{"l":"M12","g":"C","x":22,"y":0.02},{"l":"M12","g":"C","x":25,"y":-0.08},{"l":"M12","g":"C","x":29,"y":-0.02},{"l":"M12","g":"C","x":33,"y":0.12},{"l":"M12","g":"C","x":37,"y":0.28},{"l":"M12","g":"C","x":41,"y":0.40},
{"l":"S1","g":"C","x":1,"y":0.40},{"l":"S1","g":"C","x":5,"y":0.55},{"l":"S1","g":"C","x":9,"y":0.62},{"l":"S1","g":"C","x":13,"y":0.55},{"l":"S1","g":"C","x":16,"y":0.35},{"l":"S1","g":"C","x":19,"y":-0.20},{"l":"S1","g":"C","x":22,"y":-0.65},{"l":"S1","g":"C","x":25,"y":-0.70},{"l":"S1","g":"C","x":29,"y":-0.05},{"l":"S1","g":"C","x":33,"y":0.55},{"l":"S1","g":"C","x":37,"y":1.00},{"l":"S1","g":"C","x":41,"y":1.12},
{"l":"S2","g":"P","x":1,"y":0.60},{"l":"S2","g":"P","x":5,"y":0.70},{"l":"S2","g":"P","x":9,"y":0.72},{"l":"S2","g":"P","x":13,"y":0.62},{"l":"S2","g":"P","x":16,"y":0.40},{"l":"S2","g":"P","x":19,"y":-0.15},{"l":"S2","g":"P","x":22,"y":-0.60},{"l":"S2","g":"P","x":25,"y":-0.65},{"l":"S2","g":"P","x":29,"y":0.00},{"l":"S2","g":"P","x":33,"y":0.60},{"l":"S2","g":"P","x":37,"y":0.98},{"l":"S2","g":"P","x":41,"y":1.03},
{"l":"S3","g":"P","x":1,"y":0.70},{"l":"S3","g":"P","x":5,"y":0.85},{"l":"S3","g":"P","x":9,"y":0.88},{"l":"S3","g":"P","x":13,"y":0.75},{"l":"S3","g":"P","x":16,"y":0.52},{"l":"S3","g":"P","x":19,"y":-0.05},{"l":"S3","g":"P","x":22,"y":-0.50},{"l":"S3","g":"P","x":25,"y":-0.55},{"l":"S3","g":"P","x":29,"y":0.15},{"l":"S3","g":"P","x":33,"y":0.72},{"l":"S3","g":"P","x":37,"y":0.95},{"l":"S3","g":"P","x":41,"y":0.91},
{"l":"S4","g":"C","x":1,"y":1.05},{"l":"S4","g":"C","x":5,"y":1.00},{"l":"S4","g":"C","x":9,"y":0.90},{"l":"S4","g":"C","x":13,"y":0.72},{"l":"S4","g":"C","x":16,"y":0.50},{"l":"S4","g":"C","x":19,"y":-0.08},{"l":"S4","g":"C","x":22,"y":-0.58},{"l":"S4","g":"C","x":25,"y":-0.66},{"l":"S4","g":"C","x":29,"y":-0.10},{"l":"S4","g":"C","x":33,"y":0.40},{"l":"S4","g":"C","x":37,"y":0.70},{"l":"S4","g":"C","x":41,"y":0.80},
{"l":"S5","g":"G","x":1,"y":0.50},{"l":"S5","g":"G","x":5,"y":0.60},{"l":"S5","g":"G","x":9,"y":0.62},{"l":"S5","g":"G","x":13,"y":0.55},{"l":"S5","g":"G","x":16,"y":0.40},{"l":"S5","g":"G","x":19,"y":0.05},{"l":"S5","g":"G","x":22,"y":-0.20},{"l":"S5","g":"G","x":25,"y":0.10},{"l":"S5","g":"G","x":29,"y":0.55},{"l":"S5","g":"G","x":33,"y":0.72},{"l":"S5","g":"G","x":37,"y":0.48},{"l":"S5","g":"G","x":41,"y":0.05},
{"l":"S6","g":"P","x":1,"y":1.00},{"l":"S6","g":"P","x":5,"y":0.98},{"l":"S6","g":"P","x":9,"y":0.90},{"l":"S6","g":"P","x":13,"y":0.75},{"l":"S6","g":"P","x":16,"y":0.55},{"l":"S6","g":"P","x":19,"y":0.00},{"l":"S6","g":"P","x":22,"y":-0.52},{"l":"S6","g":"P","x":25,"y":-0.62},{"l":"S6","g":"P","x":29,"y":-0.10},{"l":"S6","g":"P","x":33,"y":0.35},{"l":"S6","g":"P","x":37,"y":0.62},{"l":"S6","g":"P","x":41,"y":0.75},
{"l":"S7","g":"G","x":1,"y":0.90},{"l":"S7","g":"G","x":5,"y":0.90},{"l":"S7","g":"G","x":9,"y":0.84},{"l":"S7","g":"G","x":13,"y":0.70},{"l":"S7","g":"G","x":16,"y":0.50},{"l":"S7","g":"G","x":19,"y":-0.05},{"l":"S7","g":"G","x":22,"y":-0.58},{"l":"S7","g":"G","x":25,"y":-0.72},{"l":"S7","g":"G","x":29,"y":-0.35},{"l":"S7","g":"G","x":33,"y":0.10},{"l":"S7","g":"G","x":37,"y":0.45},{"l":"S7","g":"G","x":41,"y":0.68},
{"l":"S8","g":"P","x":1,"y":0.30},{"l":"S8","g":"P","x":5,"y":0.45},{"l":"S8","g":"P","x":9,"y":0.52},{"l":"S8","g":"P","x":13,"y":0.48},{"l":"S8","g":"P","x":16,"y":0.38},{"l":"S8","g":"P","x":19,"y":0.10},{"l":"S8","g":"P","x":22,"y":-0.15},{"l":"S8","g":"P","x":25,"y":-0.10},{"l":"S8","g":"P","x":29,"y":0.15},{"l":"S8","g":"P","x":33,"y":0.15},{"l":"S8","g":"P","x":37,"y":-0.40},{"l":"S8","g":"P","x":41,"y":-0.85},
{"l":"U1","g":"G","x":1,"y":0.60},{"l":"U1","g":"G","x":5,"y":0.62},{"l":"U1","g":"G","x":9,"y":0.55},{"l":"U1","g":"G","x":13,"y":0.40},{"l":"U1","g":"G","x":16,"y":0.20},{"l":"U1","g":"G","x":19,"y":-0.05},{"l":"U1","g":"G","x":22,"y":-0.05},{"l":"U1","g":"G","x":25,"y":0.15},{"l":"U1","g":"G","x":29,"y":0.45},{"l":"U1","g":"G","x":33,"y":0.65},{"l":"U1","g":"G","x":37,"y":0.60},{"l":"U1","g":"G","x":41,"y":0.40},
{"l":"U2","g":"C","x":1,"y":0.20},{"l":"U2","g":"C","x":5,"y":0.22},{"l":"U2","g":"C","x":9,"y":0.25},{"l":"U2","g":"C","x":13,"y":0.25},{"l":"U2","g":"C","x":16,"y":0.20},{"l":"U2","g":"C","x":19,"y":0.10},{"l":"U2","g":"C","x":22,"y":0.05},{"l":"U2","g":"C","x":25,"y":0.10},{"l":"U2","g":"C","x":29,"y":0.20},{"l":"U2","g":"C","x":33,"y":0.32},{"l":"U2","g":"C","x":37,"y":0.40},{"l":"U2","g":"C","x":41,"y":0.45},
{"l":"U3","g":"P","x":1,"y":0.30},{"l":"U3","g":"P","x":5,"y":0.42},{"l":"U3","g":"P","x":9,"y":0.48},{"l":"U3","g":"P","x":13,"y":0.42},{"l":"U3","g":"P","x":16,"y":0.30},{"l":"U3","g":"P","x":19,"y":0.12},{"l":"U3","g":"P","x":22,"y":0.05},{"l":"U3","g":"P","x":25,"y":0.12},{"l":"U3","g":"P","x":29,"y":0.30},{"l":"U3","g":"P","x":33,"y":0.45},{"l":"U3","g":"P","x":37,"y":0.48},{"l":"U3","g":"P","x":41,"y":0.40},
{"l":"U4","g":"C","x":1,"y":-0.10},{"l":"U4","g":"C","x":5,"y":-0.05},{"l":"U4","g":"C","x":9,"y":0.00},{"l":"U4","g":"C","x":13,"y":0.02},{"l":"U4","g":"C","x":16,"y":0.00},{"l":"U4","g":"C","x":19,"y":-0.08},{"l":"U4","g":"C","x":22,"y":-0.18},{"l":"U4","g":"C","x":25,"y":-0.20},{"l":"U4","g":"C","x":29,"y":-0.02},{"l":"U4","g":"C","x":33,"y":0.22},{"l":"U4","g":"C","x":37,"y":0.40},{"l":"U4","g":"C","x":41,"y":0.52},
{"l":"U5","g":"P","x":1,"y":-0.20},{"l":"U5","g":"P","x":5,"y":0.00},{"l":"U5","g":"P","x":9,"y":0.20},{"l":"U5","g":"P","x":13,"y":0.38},{"l":"U5","g":"P","x":16,"y":0.50},{"l":"U5","g":"P","x":19,"y":0.55},{"l":"U5","g":"P","x":22,"y":0.40},{"l":"U5","g":"P","x":25,"y":0.15},{"l":"U5","g":"P","x":29,"y":0.00},{"l":"U5","g":"P","x":33,"y":-0.05},{"l":"U5","g":"P","x":37,"y":-0.10},{"l":"U5","g":"P","x":41,"y":-0.15}
],
"thick":[
{"Group":"All Genes","x":1,"y":0.270},{"Group":"All Genes","x":2,"y":0.275},{"Group":"All Genes","x":3,"y":0.278},{"Group":"All Genes","x":4,"y":0.279},{"Group":"All Genes","x":5,"y":0.278},{"Group":"All Genes","x":6,"y":0.276},{"Group":"All Genes","x":7,"y":0.272},{"Group":"All Genes","x":8,"y":0.265},{"Group":"All Genes","x":9,"y":0.255},{"Group":"All Genes","x":10,"y":0.245},{"Group":"All Genes","x":11,"y":0.232},{"Group":"All Genes","x":12,"y":0.218},{"Group":"All Genes","x":13,"y":0.200},{"Group":"All Genes","x":14,"y":0.170},{"Group":"All Genes","x":15,"y":0.130},{"Group":"All Genes","x":16,"y":0.090},{"Group":"All Genes","x":17,"y":0.040},{"Group":"All Genes","x":18,"y":-0.020},{"Group":"All Genes","x":19,"y":-0.090},{"Group":"All Genes","x":20,"y":-0.160},{"Group":"All Genes","x":21,"y":-0.210},{"Group":"All Genes","x":22,"y":-0.250},{"Group":"All Genes","x":23,"y":-0.285},{"Group":"All Genes","x":24,"y":-0.308},{"Group":"All Genes","x":25,"y":-0.318},{"Group":"All Genes","x":26,"y":-0.318},{"Group":"All Genes","x":27,"y":-0.300},{"Group":"All Genes","x":28,"y":-0.265},{"Group":"All Genes","x":29,"y":-0.225},{"Group":"All Genes","x":30,"y":-0.190},{"Group":"All Genes","x":31,"y":-0.158},{"Group":"All Genes","x":32,"y":-0.130},{"Group":"All Genes","x":33,"y":-0.105},{"Group":"All Genes","x":34,"y":-0.078},{"Group":"All Genes","x":35,"y":-0.052},{"Group":"All Genes","x":36,"y":-0.027},{"Group":"All Genes","x":37,"y":-0.003},{"Group":"All Genes","x":38,"y":0.025},{"Group":"All Genes","x":39,"y":0.048},{"Group":"All Genes","x":40,"y":0.068},{"Group":"All Genes","x":41,"y":0.088},
{"Group":"Hormone or Metabolic activity","x":1,"y":0.277},{"Group":"Hormone or Metabolic activity","x":2,"y":0.315},{"Group":"Hormone or Metabolic activity","x":3,"y":0.345},{"Group":"Hormone or Metabolic activity","x":4,"y":0.370},{"Group":"Hormone or Metabolic activity","x":5,"y":0.388},{"Group":"Hormone or Metabolic activity","x":6,"y":0.402},{"Group":"Hormone or Metabolic activity","x":7,"y":0.410},{"Group":"Hormone or Metabolic activity","x":8,"y":0.414},{"Group":"Hormone or Metabolic activity","x":9,"y":0.415},{"Group":"Hormone or Metabolic activity","x":10,"y":0.410},{"Group":"Hormone or Metabolic activity","x":11,"y":0.400},{"Group":"Hormone or Metabolic activity","x":12,"y":0.380},{"Group":"Hormone or Metabolic activity","x":13,"y":0.350},{"Group":"Hormone or Metabolic activity","x":14,"y":0.300},{"Group":"Hormone or Metabolic activity","x":15,"y":0.250},{"Group":"Hormone or Metabolic activity","x":16,"y":0.200},{"Group":"Hormone or Metabolic activity","x":17,"y":0.120},{"Group":"Hormone or Metabolic activity","x":18,"y":0.010},{"Group":"Hormone or Metabolic activity","x":19,"y":-0.125},{"Group":"Hormone or Metabolic activity","x":20,"y":-0.220},{"Group":"Hormone or Metabolic activity","x":21,"y":-0.300},{"Group":"Hormone or Metabolic activity","x":22,"y":-0.370},{"Group":"Hormone or Metabolic activity","x":23,"y":-0.430},{"Group":"Hormone or Metabolic activity","x":24,"y":-0.470},{"Group":"Hormone or Metabolic activity","x":25,"y":-0.495},{"Group":"Hormone or Metabolic activity","x":26,"y":-0.500},{"Group":"Hormone or Metabolic activity","x":27,"y":-0.480},{"Group":"Hormone or Metabolic activity","x":28,"y":-0.420},{"Group":"Hormone or Metabolic activity","x":29,"y":-0.350},{"Group":"Hormone or Metabolic activity","x":30,"y":-0.290},{"Group":"Hormone or Metabolic activity","x":31,"y":-0.240},{"Group":"Hormone or Metabolic activity","x":32,"y":-0.190},{"Group":"Hormone or Metabolic activity","x":33,"y":-0.145},{"Group":"Hormone or Metabolic activity","x":34,"y":-0.110},{"Group":"Hormone or Metabolic activity","x":35,"y":-0.072},{"Group":"Hormone or Metabolic activity","x":36,"y":-0.035},{"Group":"Hormone or Metabolic activity","x":37,"y":0.000},{"Group":"Hormone or Metabolic activity","x":38,"y":0.035},{"Group":"Hormone or Metabolic activity","x":39,"y":0.068},{"Group":"Hormone or Metabolic activity","x":40,"y":0.103},{"Group":"Hormone or Metabolic activity","x":41,"y":0.140},
{"Group":"Glycosylation","x":1,"y":0.665},{"Group":"Glycosylation","x":2,"y":0.662},{"Group":"Glycosylation","x":3,"y":0.655},{"Group":"Glycosylation","x":4,"y":0.645},{"Group":"Glycosylation","x":5,"y":0.633},{"Group":"Glycosylation","x":6,"y":0.621},{"Group":"Glycosylation","x":7,"y":0.609},{"Group":"Glycosylation","x":8,"y":0.597},{"Group":"Glycosylation","x":9,"y":0.582},{"Group":"Glycosylation","x":10,"y":0.558},{"Group":"Glycosylation","x":11,"y":0.525},{"Group":"Glycosylation","x":12,"y":0.482},{"Group":"Glycosylation","x":13,"y":0.425},{"Group":"Glycosylation","x":14,"y":0.355},{"Group":"Glycosylation","x":15,"y":0.290},{"Group":"Glycosylation","x":16,"y":0.215},{"Group":"Glycosylation","x":17,"y":0.120},{"Group":"Glycosylation","x":18,"y":-0.010},{"Group":"Glycosylation","x":19,"y":-0.160},{"Group":"Glycosylation","x":20,"y":-0.300},{"Group":"Glycosylation","x":21,"y":-0.410},{"Group":"Glycosylation","x":22,"y":-0.490},{"Group":"Glycosylation","x":23,"y":-0.550},{"Group":"Glycosylation","x":24,"y":-0.600},{"Group":"Glycosylation","x":25,"y":-0.625},{"Group":"Glycosylation","x":26,"y":-0.635},{"Group":"Glycosylation","x":27,"y":-0.600},{"Group":"Glycosylation","x":28,"y":-0.530},{"Group":"Glycosylation","x":29,"y":-0.475},{"Group":"Glycosylation","x":30,"y":-0.420},{"Group":"Glycosylation","x":31,"y":-0.360},{"Group":"Glycosylation","x":32,"y":-0.310},{"Group":"Glycosylation","x":33,"y":-0.265},{"Group":"Glycosylation","x":34,"y":-0.220},{"Group":"Glycosylation","x":35,"y":-0.170},{"Group":"Glycosylation","x":36,"y":-0.122},{"Group":"Glycosylation","x":37,"y":-0.085},{"Group":"Glycosylation","x":38,"y":-0.045},{"Group":"Glycosylation","x":39,"y":-0.012},{"Group":"Glycosylation","x":40,"y":0.015},{"Group":"Glycosylation","x":41,"y":0.040},
{"Group":"ID Genes","x":1,"y":0.540},{"Group":"ID Genes","x":2,"y":0.555},{"Group":"ID Genes","x":3,"y":0.564},{"Group":"ID Genes","x":4,"y":0.568},{"Group":"ID Genes","x":5,"y":0.568},{"Group":"ID Genes","x":6,"y":0.565},{"Group":"ID Genes","x":7,"y":0.558},{"Group":"ID Genes","x":8,"y":0.545},{"Group":"ID Genes","x":9,"y":0.527},{"Group":"ID Genes","x":10,"y":0.503},{"Group":"ID Genes","x":11,"y":0.474},{"Group":"ID Genes","x":12,"y":0.438},{"Group":"ID Genes","x":13,"y":0.390},{"Group":"ID Genes","x":14,"y":0.336},{"Group":"ID Genes","x":15,"y":0.270},{"Group":"ID Genes","x":16,"y":0.210},{"Group":"ID Genes","x":17,"y":0.120},{"Group":"ID Genes","x":18,"y":0.000},{"Group":"ID Genes","x":19,"y":-0.140},{"Group":"ID Genes","x":20,"y":-0.270},{"Group":"ID Genes","x":21,"y":-0.380},{"Group":"ID Genes","x":22,"y":-0.455},{"Group":"ID Genes","x":23,"y":-0.510},{"Group":"ID Genes","x":24,"y":-0.550},{"Group":"ID Genes","x":25,"y":-0.572},{"Group":"ID Genes","x":26,"y":-0.576},{"Group":"ID Genes","x":27,"y":-0.550},{"Group":"ID Genes","x":28,"y":-0.480},{"Group":"ID Genes","x":29,"y":-0.410},{"Group":"ID Genes","x":30,"y":-0.350},{"Group":"ID Genes","x":31,"y":-0.290},{"Group":"ID Genes","x":32,"y":-0.240},{"Group":"ID Genes","x":33,"y":-0.200},{"Group":"ID Genes","x":34,"y":-0.165},{"Group":"ID Genes","x":35,"y":-0.132},{"Group":"ID Genes","x":36,"y":-0.102},{"Group":"ID Genes","x":37,"y":-0.075},{"Group":"ID Genes","x":38,"y":-0.050},{"Group":"ID Genes","x":39,"y":-0.030},{"Group":"ID Genes","x":40,"y":-0.012},{"Group":"ID Genes","x":41,"y":0.005}
],
"pts":[
{"Group":"All Genes","x":1,"y":0.385},{"Group":"All Genes","x":2,"y":0.515},{"Group":"All Genes","x":3,"y":0.23},{"Group":"All Genes","x":4,"y":0.15},{"Group":"All Genes","x":5,"y":0.056},{"Group":"All Genes","x":6,"y":0.17},{"Group":"All Genes","x":7,"y":0.29},{"Group":"All Genes","x":8,"y":0.011},{"Group":"All Genes","x":9,"y":0.30},{"Group":"All Genes","x":10,"y":0.275},{"Group":"All Genes","x":11,"y":0.25},{"Group":"All Genes","x":12,"y":0.253},{"Group":"All Genes","x":13,"y":0.003},{"Group":"All Genes","x":14,"y":0.168},{"Group":"All Genes","x":15,"y":0.31},{"Group":"All Genes","x":16,"y":0.20},{"Group":"All Genes","x":17,"y":0.10},{"Group":"All Genes","x":18,"y":0.077},{"Group":"All Genes","x":19,"y":0.118},{"Group":"All Genes","x":20,"y":0.038},{"Group":"All Genes","x":21,"y":-1.037},{"Group":"All Genes","x":22,"y":-0.14},{"Group":"All Genes","x":23,"y":0.27},{"Group":"All Genes","x":24,"y":-1.02},{"Group":"All Genes","x":25,"y":-0.577},{"Group":"All Genes","x":26,"y":-0.478},{"Group":"All Genes","x":27,"y":-0.31},{"Group":"All Genes","x":28,"y":-0.005},{"Group":"All Genes","x":29,"y":0.0},{"Group":"All Genes","x":30,"y":-0.115},{"Group":"All Genes","x":31,"y":0.003},{"Group":"All Genes","x":32,"y":0.217},{"Group":"All Genes","x":33,"y":-0.57},{"Group":"All Genes","x":34,"y":0.21},{"Group":"All Genes","x":35,"y":0.127},{"Group":"All Genes","x":36,"y":0.041},{"Group":"All Genes","x":37,"y":0.129},{"Group":"All Genes","x":38,"y":0.158},{"Group":"All Genes","x":39,"y":0.24},{"Group":"All Genes","x":40,"y":-0.159},{"Group":"All Genes","x":41,"y":-0.157},
{"Group":"Glycosylation","x":1,"y":0.755},{"Group":"Glycosylation","x":2,"y":0.94},{"Group":"Glycosylation","x":3,"y":0.637},{"Group":"Glycosylation","x":4,"y":0.527},{"Group":"Glycosylation","x":5,"y":0.43},{"Group":"Glycosylation","x":6,"y":0.535},{"Group":"Glycosylation","x":7,"y":0.77},{"Group":"Glycosylation","x":8,"y":0.12},{"Group":"Glycosylation","x":9,"y":0.60},{"Group":"Glycosylation","x":10,"y":0.556},{"Group":"Glycosylation","x":11,"y":0.52},{"Group":"Glycosylation","x":12,"y":0.40},{"Group":"Glycosylation","x":13,"y":-0.115},{"Group":"Glycosylation","x":14,"y":0.223},{"Group":"Glycosylation","x":15,"y":0.58},{"Group":"Glycosylation","x":16,"y":0.58},{"Group":"Glycosylation","x":17,"y":0.266},{"Group":"Glycosylation","x":18,"y":0.11},{"Group":"Glycosylation","x":19,"y":0.125},{"Group":"Glycosylation","x":20,"y":0.133},{"Group":"Glycosylation","x":22,"y":-0.24},{"Group":"Glycosylation","x":23,"y":0.37},{"Group":"Glycosylation","x":25,"y":-0.947},{"Group":"Glycosylation","x":26,"y":-0.957},{"Group":"Glycosylation","x":27,"y":-0.425},{"Group":"Glycosylation","x":28,"y":-0.125},{"Group":"Glycosylation","x":29,"y":-0.278},{"Group":"Glycosylation","x":30,"y":-0.173},{"Group":"Glycosylation","x":31,"y":-0.14},{"Group":"Glycosylation","x":32,"y":0.33},{"Group":"Glycosylation","x":33,"y":-1.22},{"Group":"Glycosylation","x":34,"y":0.44},{"Group":"Glycosylation","x":35,"y":0.099},{"Group":"Glycosylation","x":36,"y":-0.098},{"Group":"Glycosylation","x":37,"y":0.372},{"Group":"Glycosylation","x":38,"y":0.20},{"Group":"Glycosylation","x":39,"y":0.357},{"Group":"Glycosylation","x":40,"y":-0.467},{"Group":"Glycosylation","x":41,"y":-0.467},
{"Group":"Hormone or Metabolic activity","x":1,"y":0.39},{"Group":"Hormone or Metabolic activity","x":2,"y":0.61},{"Group":"Hormone or Metabolic activity","x":3,"y":0.32},{"Group":"Hormone or Metabolic activity","x":4,"y":0.114},{"Group":"Hormone or Metabolic activity","x":5,"y":0.24},{"Group":"Hormone or Metabolic activity","x":6,"y":0.36},{"Group":"Hormone or Metabolic activity","x":7,"y":0.487},{"Group":"Hormone or Metabolic activity","x":8,"y":-0.022},{"Group":"Hormone or Metabolic activity","x":9,"y":0.453},{"Group":"Hormone or Metabolic activity","x":10,"y":0.48},{"Group":"Hormone or Metabolic activity","x":11,"y":0.43},{"Group":"Hormone or Metabolic activity","x":12,"y":0.484},{"Group":"Hormone or Metabolic activity","x":13,"y":-0.155},{"Group":"Hormone or Metabolic activity","x":14,"y":0.273},{"Group":"Hormone or Metabolic activity","x":15,"y":0.51},{"Group":"Hormone or Metabolic activity","x":16,"y":0.41},{"Group":"Hormone or Metabolic activity","x":17,"y":0.37},{"Group":"Hormone or Metabolic activity","x":18,"y":0.254},{"Group":"Hormone or Metabolic activity","x":19,"y":0.16},{"Group":"Hormone or Metabolic activity","x":20,"y":0.16},{"Group":"Hormone or Metabolic activity","x":22,"y":-0.162},{"Group":"Hormone or Metabolic activity","x":23,"y":0.28},{"Group":"Hormone or Metabolic activity","x":24,"y":-1.51},{"Group":"Hormone or Metabolic activity","x":25,"y":-0.845},{"Group":"Hormone or Metabolic activity","x":26,"y":-0.675},{"Group":"Hormone or Metabolic activity","x":27,"y":-0.71},{"Group":"Hormone or Metabolic activity","x":28,"y":0.10},{"Group":"Hormone or Metabolic activity","x":29,"y":-0.068},{"Group":"Hormone or Metabolic activity","x":30,"y":-0.05},{"Group":"Hormone or Metabolic activity","x":31,"y":-0.03},{"Group":"Hormone or Metabolic activity","x":32,"y":0.272},{"Group":"Hormone or Metabolic activity","x":33,"y":-0.886},{"Group":"Hormone or Metabolic activity","x":34,"y":0.377},{"Group":"Hormone or Metabolic activity","x":35,"y":0.15},{"Group":"Hormone or Metabolic activity","x":36,"y":0.066},{"Group":"Hormone or Metabolic activity","x":37,"y":0.174},{"Group":"Hormone or Metabolic activity","x":38,"y":0.21},{"Group":"Hormone or Metabolic activity","x":39,"y":0.316},{"Group":"Hormone or Metabolic activity","x":40,"y":-0.145},{"Group":"Hormone or Metabolic activity","x":41,"y":-0.265},
{"Group":"ID Genes","x":1,"y":0.575},{"Group":"ID Genes","x":2,"y":0.87},{"Group":"ID Genes","x":3,"y":0.477},{"Group":"ID Genes","x":4,"y":0.46},{"Group":"ID Genes","x":5,"y":0.406},{"Group":"ID Genes","x":6,"y":0.57},{"Group":"ID Genes","x":7,"y":0.567},{"Group":"ID Genes","x":8,"y":0.244},{"Group":"ID Genes","x":9,"y":0.46},{"Group":"ID Genes","x":10,"y":0.54},{"Group":"ID Genes","x":11,"y":0.557},{"Group":"ID Genes","x":12,"y":0.44},{"Group":"ID Genes","x":13,"y":-0.175},{"Group":"ID Genes","x":14,"y":0.33},{"Group":"ID Genes","x":15,"y":0.622},{"Group":"ID Genes","x":16,"y":0.365},{"Group":"ID Genes","x":17,"y":0.45},{"Group":"ID Genes","x":18,"y":0.18},{"Group":"ID Genes","x":19,"y":0.116},{"Group":"ID Genes","x":20,"y":-0.045},{"Group":"ID Genes","x":22,"y":-0.26},{"Group":"ID Genes","x":23,"y":0.36},{"Group":"ID Genes","x":25,"y":-0.93},{"Group":"ID Genes","x":26,"y":-0.70},{"Group":"ID Genes","x":27,"y":-0.74},{"Group":"ID Genes","x":28,"y":-0.25},{"Group":"ID Genes","x":29,"y":-0.043},{"Group":"ID Genes","x":30,"y":-0.245},{"Group":"ID Genes","x":31,"y":-0.133},{"Group":"ID Genes","x":32,"y":0.33},{"Group":"ID Genes","x":33,"y":-0.914},{"Group":"ID Genes","x":34,"y":0.256},{"Group":"ID Genes","x":35,"y":0.357},{"Group":"ID Genes","x":36,"y":0.12},{"Group":"ID Genes","x":37,"y":0.054},{"Group":"ID Genes","x":38,"y":0.139},{"Group":"ID Genes","x":39,"y":0.235},{"Group":"ID Genes","x":40,"y":-0.435},{"Group":"ID Genes","x":41,"y":-0.43}
]
},
"encoding":{
 "x":{"field":"x","type":"quantitative","scale":{"domain":[0.4,41.6],"nice":false,"zero":false},
  "axis":{"values":[1,2,3,4,5,6,7,8,9,10,11,12,13,14,15,16,17,18,19,20,21,22,23,24,25,26,27,28,29,30,31,32,33,34,35,36,37,38,39,40,41],
   "labelExpr":"['8 pcw','9 pcw','12 pcw','12 pcw','12 pcw','13 pcw','13 pcw','13 pcw','16 pcw','16 pcw','16 pcw','17 pcw','19 pcw','21 pcw','21 pcw','24 pcw','25 pcw','26 pcw','4 mos','4 mos','6 mos','10 mos','1 yrs','2 yrs','3 yrs','3 yrs','4 yrs','8 yrs','8 yrs','11 yrs','13 yrs','15 yrs','18 yrs','19 yrs','21 yrs','23 yrs','30 yrs','36 yrs','37 yrs','40 yrs','40 yrs'][datum.value-1]",
   "labelAngle":270,"labelAlign":"right","labelBaseline":"middle","labelFontSize":17,"labelColor":"#4d4d4d","labelPadding":3,
   "labelOverlap":false,"labelFlush":false,"labelBound":false,
   "tickSize":5,"tickColor":"#333333","tickWidth":1.2,"domain":false,
   "grid":true,"gridColor":"#ededed","gridWidth":1.2,"title":null}},
 "y":{"field":"y","type":"quantitative","scale":{"domain":[-1.54,1.54],"nice":false,"zero":false},
  "axis":{"values":[-1.5,-1,-0.5,0,0.5,1,1.5],
   "labelExpr":"(datum.value < 0 ? '-' : '') + format(abs(datum.value), '.1f')",
   "labelFontSize":16,"labelFontWeight":"bold","labelColor":"#4d4d4d","labelPadding":3,
   "tickSize":6,"tickColor":"#333333","tickWidth":1.2,"domain":false,
   "grid":true,"gridColor":"#ededed","gridWidth":1.2,
   "title":"log(Expression) (z-score)","titleFontSize":24,"titleFontWeight":"normal","titleColor":"#000000","titlePadding":8}}
},
"layer":[
{"data":{"name":"thin"},"transform":[{"filter":"datum.g == 'P'"}],
 "mark":{"type":"line","interpolate":"monotone","clip":true,"color":"#C48FE0","strokeWidth":1.2,"opacity":0.55},
 "encoding":{"detail":{"field":"l"}}},
{"data":{"name":"thin"},"transform":[{"filter":"datum.g == 'C'"}],
 "mark":{"type":"line","interpolate":"monotone","clip":true,"color":"#5CC9D1","strokeWidth":1.2,"opacity":0.55},
 "encoding":{"detail":{"field":"l"}}},
{"data":{"name":"thin"},"transform":[{"filter":"datum.g == 'G'"}],
 "mark":{"type":"line","interpolate":"monotone","clip":true,"color":"#B3D463","strokeWidth":1.2,"opacity":0.65},
 "encoding":{"detail":{"field":"l"}}},
{"data":{"values":[{"x":18.5,"y":-1.54,"y2":1.54}]},
 "mark":{"type":"rule","color":"#8f8f8f","strokeWidth":1.2,"strokeDash":[7,5],"clip":true},
 "encoding":{"y2":{"field":"y2"}}},
{"data":{"name":"thick"},
 "mark":{"type":"line","interpolate":"monotone","clip":true,"strokeWidth":3.5},
 "encoding":{
  "color":{"field":"Group","type":"nominal",
   "scale":{"domain":["All Genes","Glycosylation","Hormone or Metabolic activity","ID Genes"],"range":["#EE4B5B","#62A72C","#22B4C0","#9656BB"]},
   "legend":{"title":"Group","orient":"none","legendX":443,"legendY":7,"fillColor":"white","padding":15,"zindex":1,
    "titleFontSize":28,"titleFontWeight":"normal","titleColor":"#111111","titlePadding":14,
    "labelFontSize":24,"labelColor":"#1a1a1a","labelOffset":11,"labelLimit":600,
    "symbolType":"stroke","symbolSize":2500,"symbolStrokeWidth":6,"rowPadding":18}}}},
{"data":{"name":"pts"},
 "mark":{"type":"circle","clip":true,"size":55,"opacity":1},
 "encoding":{"color":{"field":"Group","type":"nominal","legend":null}}}
]
}
